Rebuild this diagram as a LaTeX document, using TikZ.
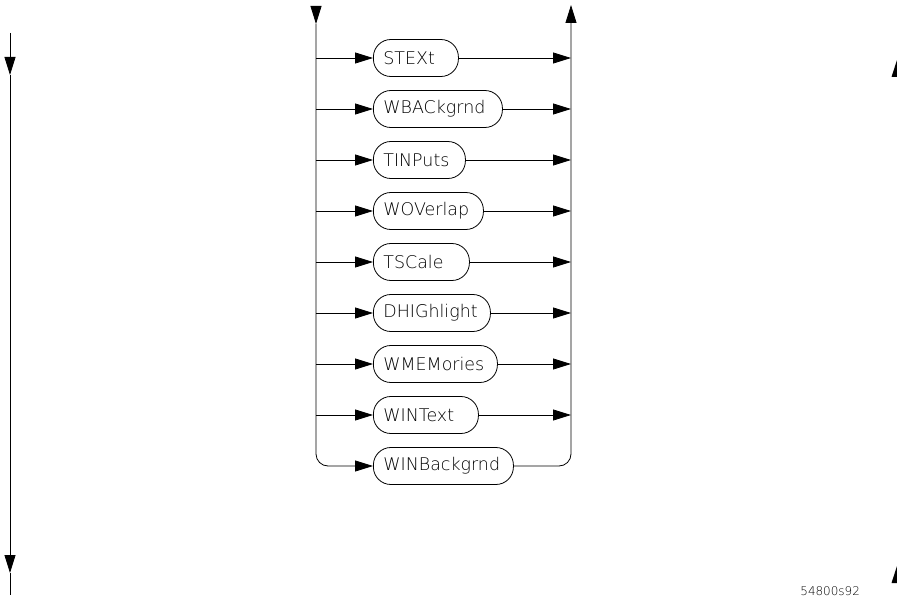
\documentclass[tikz,border=0pt]{standalone}
\usepackage{fontspec}
\newfontfamily\kwfont{DejaVu Sans ExtraLight}
\usetikzlibrary{arrows.meta}
\begin{document}
\begin{tikzpicture}[x=1bp,y=-1bp,line width=0.8bp,
  tip/.style={-{Triangle[length=18bp,width=11bp]}},
  kw/.style={draw,rectangle,rounded corners=17.5bp,minimum height=37bp,inner xsep=10bp,
    inner ysep=0pt,anchor=west,text width=#1-20bp,align=left,
    font=\kwfont\fontsize{17.5}{21}\selectfont}]
\useasboundingbox (0,0) rectangle (897,599);
% keyword nodes
\node[kw=85bp]  (k1) at (373,58)  {STEXt};
\node[kw=129bp] (k2) at (373,109) {WBACkgrnd};
\node[kw=92bp]  (k3) at (373,160) {TINPuts};
\node[kw=110bp] (k4) at (373,211) {WOVerlap};
\node[kw=96bp]  (k5) at (373,262) {TSCale};
\node[kw=117bp] (k6) at (373,313) {DHIGhlight};
\node[kw=124bp] (k7) at (373,364) {WMEMories};
\node[kw=105bp] (k8) at (373,415) {WINText};
\node[kw=140bp] (k9) at (373,466) {WINBackgrnd};
% branch points
\foreach \i/\y in {1/58,2/109,3/160,4/211,5/262,6/313,7/364,8/415}{
  \coordinate (L\i) at (316,\y);
  \coordinate (R\i) at (571,\y);
  \draw[tip] (L\i) -- (k\i.west);
  \draw[tip] (k\i.east) -- (R\i);
}
% main rails
\coordinate (LT) at (316,7);
\coordinate (LA) at (316,24);
\coordinate (RT) at (571,5);
\draw[tip] (LT) -- (LA);
\draw[tip,rounded corners=12bp] (LA) |- (k9.west);
\draw[tip,rounded corners=12bp] (k9.east) -| (RT);
% far left line
\coordinate (F0) at (10,33);
\coordinate (F1) at (10,75);
\coordinate (F2) at (10,573);
\coordinate (F3) at (10,595);
\draw[tip] (F0) -- (F1);
\draw[tip] (F1) -- (F2);
\draw (F2) -- (F3);
% partial arrowheads at right edge
\fill (897,60) -- (891.5,77) -- (902.5,77) -- cycle;
\fill (897,566) -- (891.5,583) -- (902.5,583) -- cycle;
% figure label
\node[anchor=base west,inner sep=0,font=\kwfont\fontsize{12}{14}\selectfont] (lbl) at (800,595) {54800s92};
\end{tikzpicture}
\end{document}
